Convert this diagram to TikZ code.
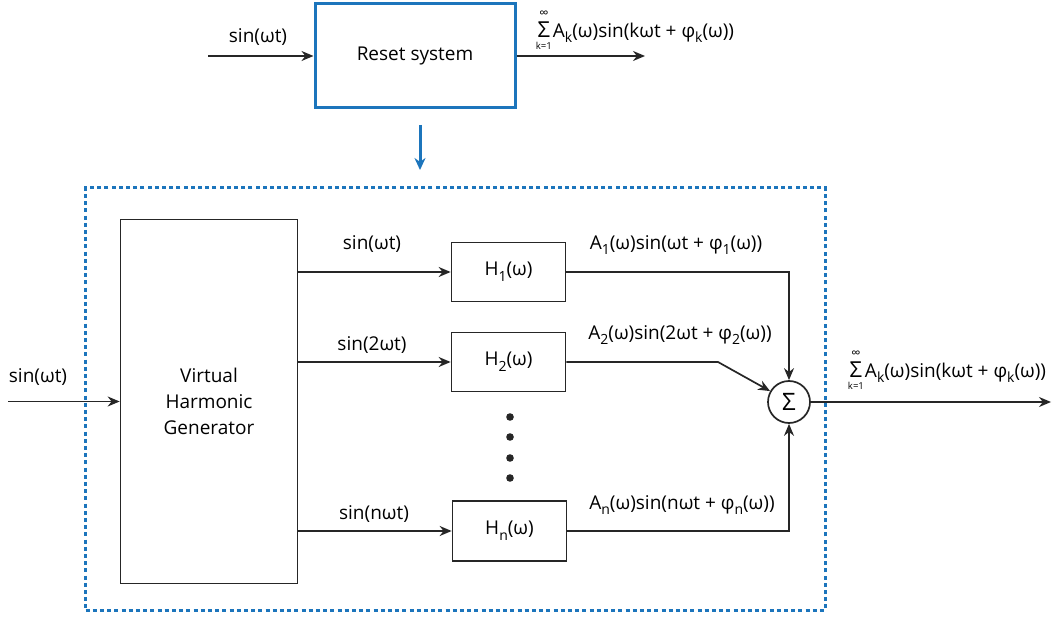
\documentclass[tikz,border=0pt]{standalone}
\usepackage{fontspec}
\setmainfont{Open Sans}
\usetikzlibrary{arrows.meta,positioning}
\definecolor{resetblue}{RGB}{28,117,188}
\newcommand{\lowsub}[1]{\raisebox{-0.55ex}{\scriptsize #1}}
\newcommand{\harmsum}{$\mathop{\hbox{\fontsize{11}{11}\selectfont Σ}}\limits^{\hbox{\fontsize{6.5}{6}\selectfont ∞}}_{\hbox{\fontsize{4.8}{5}\selectfont k=1}}$\kern0.5pt}

\begin{document}
\begin{tikzpicture}[x=0.5pt,y=-0.5pt,font=\fontsize{9.5}{11}\selectfont,
  block/.style={draw=black!85,line width=0.85pt,inner sep=0pt},
  arr/.style={draw=black!85,line width=0.85pt,-{Stealth[length=6pt,width=5pt]}}]
  \useasboundingbox (0,0) rectangle (1052,619);
  % Reset system
  \node[draw=resetblue,line width=1.5pt,minimum width=100pt,minimum height=52pt] (reset) at (415,56) {Reset system};
  \coordinate (rin) at (208,56);
  \coordinate (rout) at (645,56);
  \draw[arr] (rin) -- (reset.west);
  \draw[arr] (reset.east) -- (rout);
  \node (rinlbl) at (258,37) {sin(ωt)};
  \node (routlbl) at (635,30) {\harmsum A\lowsub{k}(ω)sin(kωt + φ\lowsub{k}(ω))};
  % Blue arrow down
  \coordinate (btop) at (420,125);
  \coordinate (bbot) at (420,170);
  \draw[resetblue,line width=1.5pt,-{Stealth[length=6pt,width=5.5pt]}] (btop) -- (bbot);
  % Dotted frame
  \node[draw=resetblue,line width=1.5pt,dash pattern=on 2pt off 1.6pt,minimum width=370pt,minimum height=211pt] (frame) at (455.5,399) {};
  % Generator
  \node[block,minimum width=88.5pt,minimum height=182pt,align=center,font=\fontsize{9.5}{13}\selectfont] (vhg) at (209,401.5) {Virtual\\Harmonic\\Generator};
  \coordinate (gin) at (8,401.5);
  \draw[arr] (gin) -- (vhg);
  \node (ginlbl) at (38,377) {sin(ωt)};
  % Filters
  \node[block,minimum width=57pt,minimum height=29.5pt] (h1) at (508.5,272) {H\lowsub{1}(ω)};
  \node[block,minimum width=57pt,minimum height=29.5pt] (h2) at (508.5,362) {H\lowsub{2}(ω)};
  \node[block,minimum width=57pt,minimum height=30pt] (hn) at (509.5,531) {H\lowsub{n}(ω)};
  \draw[arr] (vhg.east |- h1) -- (h1);
  \draw[arr] (vhg.east |- h2) -- (h2);
  \draw[arr] (vhg.east |- hn) -- (hn);
  \node (s1) at (372,244) {sin(ωt)};
  \node (s2) at (372,345) {sin(2ωt)};
  \node (sn) at (374,514) {sin(nωt)};
  \foreach \y in {417,437,458,478}
    \fill[black!85] (510,\y) circle (1.9pt);
  % Summation
  \node[draw=black!85,circle,line width=0.85pt,minimum size=21pt,inner sep=0pt,font=\fontsize{12}{12}\selectfont] (sum) at (789,402) {Σ};
  \coordinate (h2bend) at (718,362);
  \draw[arr] (h1.east) -| (sum.north);
  \draw[arr] (h2.east) -- (h2bend) -- (sum.150);
  \draw[arr] (hn.east) -| (sum.south);
  \node (a1) at (676,245) {A\lowsub{1}(ω)sin(ωt + φ\lowsub{1}(ω))};
  \node (a2) at (680,335) {A\lowsub{2}(ω)sin(2ωt + φ\lowsub{2}(ω))};
  \node (an) at (682,505) {A\lowsub{n}(ω)sin(nωt + φ\lowsub{n}(ω))};
  \coordinate (sout) at (1051,402);
  \draw[arr] (sum) -- (sout);
  \node (soutlbl) at (947,370) {\harmsum A\lowsub{k}(ω)sin(kωt + φ\lowsub{k}(ω))};
\end{tikzpicture}
\end{document}
